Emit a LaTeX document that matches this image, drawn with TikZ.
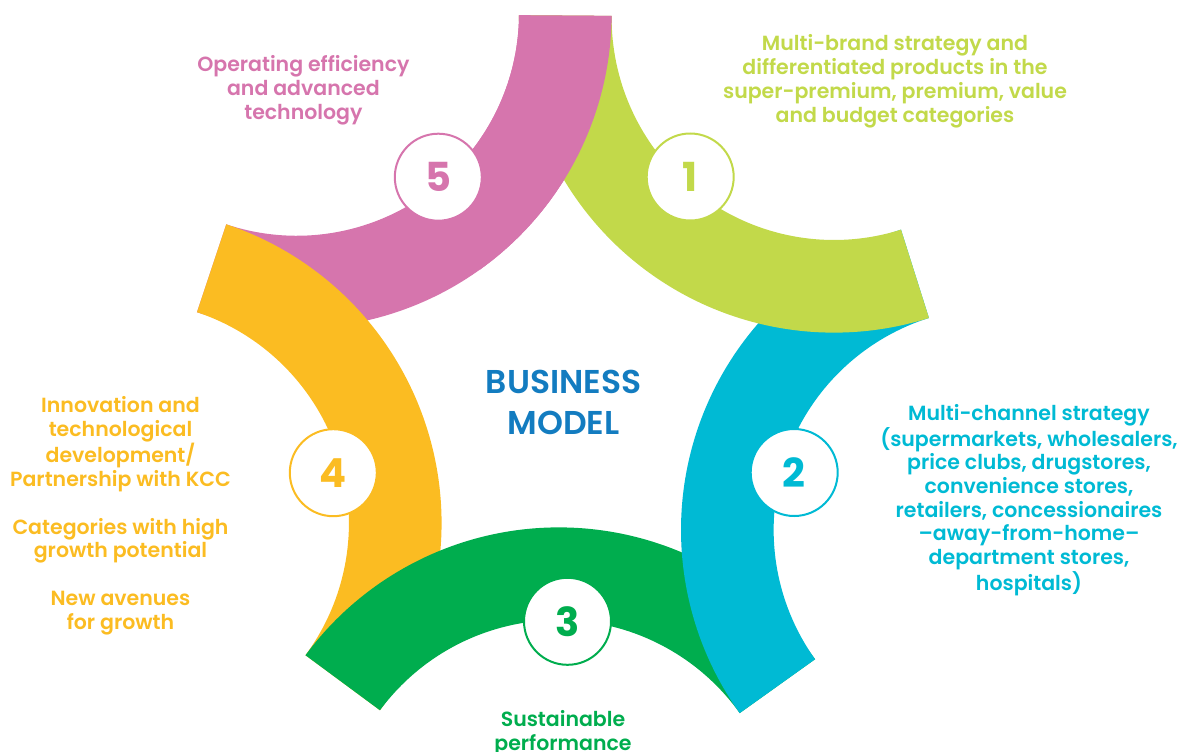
\documentclass[tikz,border=0pt]{standalone}
\usepackage{fontspec}
\setmainfont{Poppins}[UprightFont={* SemiBold}, BoldFont={* Bold}]
\newfontfamily\numfont{Poppins}[UprightFont={* Bold}]
\newfontfamily\headfont{Poppins}[UprightFont={* SemiBold}]
\usetikzlibrary{calc}

\definecolor{bandpink}{HTML}{D675AD}
\definecolor{bandlime}{HTML}{C2D94A}
\definecolor{bandcyan}{HTML}{00BAD4}
\definecolor{bandgreen}{HTML}{00AD4E}
\definecolor{bandyellow}{HTML}{FBBC22}
\definecolor{modelblue}{HTML}{137CC0}

% One band of the star: an annular sector of 108 degrees around centre #1,
% whose centre lies at angle #2 seen from the middle of the figure.
\newcommand\ringband[3]{%
  \pgfmathsetmacro\rbA{#2-234}%
  \pgfmathsetmacro\rbB{#2-126}%
  \fill[#3] ($(#1)+(\rbA:315)$) arc[start angle=\rbA, end angle=\rbB, radius=315]
    -- ($(#1)+(\rbB:222.36)$) arc[start angle=\rbB, end angle=\rbA, radius=222.36]
    -- cycle;}

\begin{document}
\begin{tikzpicture}[x=1pt,y=1pt,
  numcirc/.style={circle, fill=white, draw=#1, line width=2pt,
    minimum size=87pt, inner sep=0pt, text=#1, font=\numfont\fontsize{40}{40}\selectfont},
  lbl/.style={align=center, inner sep=0pt, text=#1, anchor=base,
    font=\fontsize{20.5}{24}\selectfont},
  heading/.style={align=center, inner sep=0pt, text=modelblue, anchor=base,
    font=\headfont\fontsize{33}{41}\selectfont}]
\useasboundingbox (0,0) rectangle (1186,-752);

% centres of the five bands, on a regular pentagon
\coordinate (O) at (562.4,-385.3);
\coordinate (c5) at ($(O)+(125.55:457.1)$);
\coordinate (c1) at ($(O)+(53.55:457.1)$);
\coordinate (c2) at ($(O)+(-18.45:457.1)$);
\coordinate (c3) at ($(O)+(-90.45:457.1)$);
\coordinate (c4) at ($(O)+(-162.45:457.1)$);

% bands, each one lying over the end of the next
\ringband{c5}{125.55}{bandpink}
\ringband{c4}{-162.45}{bandyellow}
\ringband{c3}{-90.45}{bandgreen}
\ringband{c2}{-18.45}{bandcyan}
\ringband{c1}{53.55}{bandlime}
\begin{scope}
  \clip (c5) -- ($(c5)+(-54.45:400)$) arc[start angle=-54.45, end angle=25.55, radius=400] -- cycle;
  \ringband{c5}{125.55}{bandpink}
\end{scope}

% numbered discs
\node[numcirc=bandlime]   (n1) at (690.2,-177.0) {1};
\node[numcirc=bandcyan]   (n2) at (794.2,-472.5) {2};
\node[numcirc=bandgreen]  (n3) at (567.5,-621.3) {3};
\node[numcirc=bandyellow] (n4) at (333.3,-472.7) {4};
\node[numcirc=bandpink]   (n5) at (438.3,-177.2) {5};

% centre title (placed by the baseline of its last line)
\node[heading] (title) at (563.7,-434.3) {BUSINESS\\MODEL};

% captions (placed by the baseline of their last line)
\node[lbl=bandlime] (t1) at (895,-122) {Multi-brand strategy and\\differentiated products in the\\super-premium, premium, value\\and budget categories};
\node[lbl=bandcyan, font=\fontsize{20.5}{23.7}\selectfont] (t2) at (1029,-590) {Multi-channel strategy\\(supermarkets, wholesalers,\\price clubs, drugstores,\\convenience stores,\\retailers, concessionaires\\–away-from-home–\\department stores,\\hospitals)};
\node[lbl=bandgreen] (t3) at (563,-750.5) {Sustainable\\performance};
\node[lbl=bandyellow, font=\fontsize{20.5}{23.8}\selectfont] (t4) at (120.5,-629.3) {Innovation and\\technological\\development/\\Partnership with KCC\\[23.8pt]Categories with high\\growth potential\\[23.8pt]New avenues\\for growth};
\node[lbl=bandpink] (t5) at (303.4,-119) {Operating efficiency\\and advanced\\technology};
\end{tikzpicture}
\end{document}
